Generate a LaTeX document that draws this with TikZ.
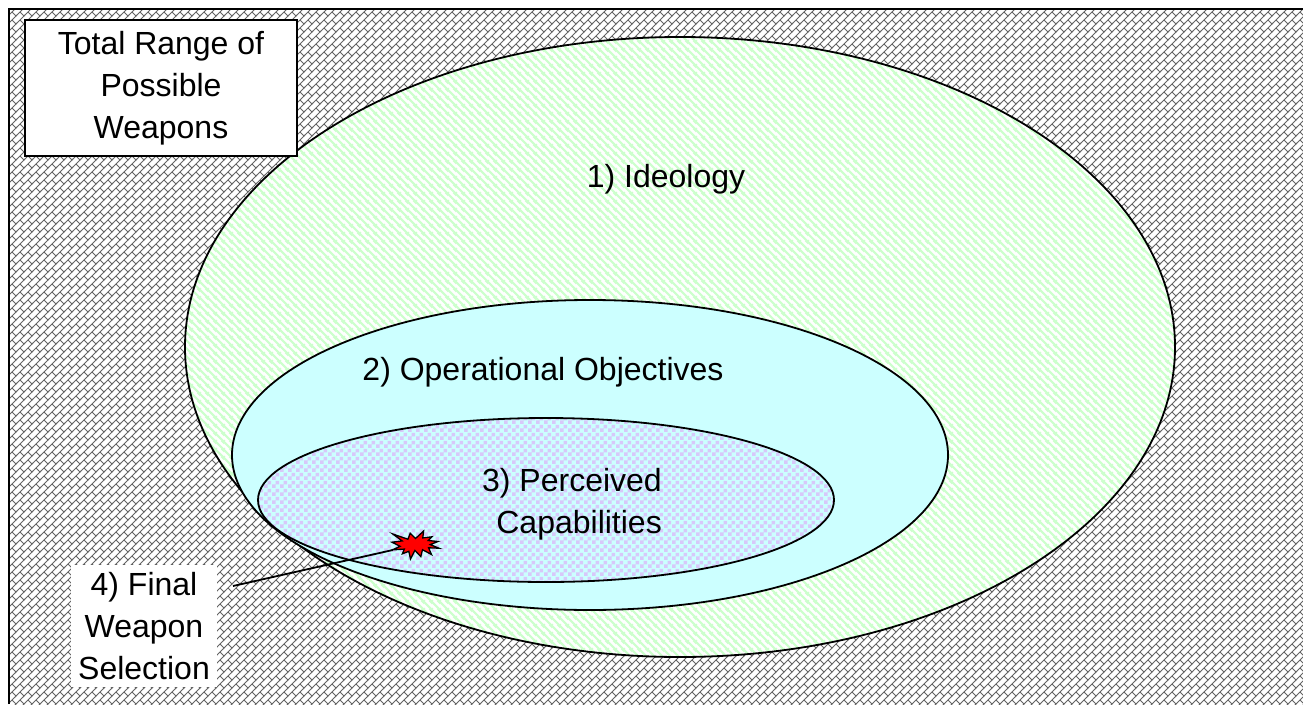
\documentclass[tikz,border=0pt]{standalone}
\usepackage{fontspec}
\setmainfont{Liberation Sans}
\usetikzlibrary{patterns,shapes.geometric}

\definecolor{brickgray}{RGB}{100,100,100}
\definecolor{lgreen}{RGB}{204,255,204}
\definecolor{lcyan}{RGB}{204,255,255}
\definecolor{lav}{RGB}{215,200,250}

% diagonal brick: rising lines with short falling joints
\pgfdeclarepatternformonly{diagbrick}{\pgfqpoint{-1pt}{-1pt}}{\pgfqpoint{9pt}{9pt}}{\pgfqpoint{8pt}{8pt}}{
  \pgfsetlinewidth{0.85pt}
  \pgfpathmoveto{\pgfqpoint{-1pt}{-1pt}}\pgfpathlineto{\pgfqpoint{9pt}{9pt}}
  \pgfpathmoveto{\pgfqpoint{4pt}{4pt}}\pgfpathlineto{\pgfqpoint{8pt}{0pt}}
  \pgfusepath{stroke}}

% wide falling stripes
\pgfdeclarepatternformonly{widedown}{\pgfqpoint{0pt}{0pt}}{\pgfqpoint{8pt}{8pt}}{\pgfqpoint{8pt}{8pt}}{
  \pgfsetlinewidth{2.4pt}
  \pgfpathmoveto{\pgfqpoint{-1pt}{9pt}}\pgfpathlineto{\pgfqpoint{9pt}{-1pt}}
  \pgfpathmoveto{\pgfqpoint{-2pt}{2pt}}\pgfpathlineto{\pgfqpoint{2pt}{-2pt}}
  \pgfpathmoveto{\pgfqpoint{6pt}{10pt}}\pgfpathlineto{\pgfqpoint{10pt}{6pt}}
  \pgfusepath{stroke}}

% large checkerboard
\pgfdeclarepatternformonly{bigcheck}{\pgfqpoint{0pt}{0pt}}{\pgfqpoint{8pt}{8pt}}{\pgfqpoint{8pt}{8pt}}{
  \pgfpathrectangle{\pgfqpoint{0pt}{0pt}}{\pgfqpoint{4pt}{4pt}}
  \pgfpathrectangle{\pgfqpoint{4pt}{4pt}}{\pgfqpoint{4pt}{4pt}}
  \pgfusepath{fill}}

\begin{document}
\begin{tikzpicture}[x=1pt,y=-1pt,
  txt/.style={font=\fontsize{32}{42}\selectfont, inner sep=0pt},
  rim/.style={line width=1.8pt}]
\useasboundingbox (0,0) rectangle (1303,704);
\fill[white] (0,0) rectangle (1303,704);

% field of all possible weapons
\fill[pattern=diagbrick, pattern color=brickgray] (9,9) rectangle (1303,704);
\draw[line width=1.6pt] (9,704) -- (9,9) -- (1303,9);

% 1) ideology
\draw[rim, preaction={fill=white}, preaction={pattern=widedown, pattern color=lgreen}]
  (680,347) ellipse [x radius=495, y radius=310];
% 2) operational objectives
\draw[rim, fill=lcyan] (590,455) ellipse [x radius=358, y radius=155];
% 3) perceived capabilities
\draw[rim, preaction={fill=lcyan}, preaction={pattern=bigcheck, pattern color=lav}]
  (546,500) ellipse [x radius=288, y radius=82];

\node[txt, anchor=base] (ideo) at (666,187) {1) Ideology};
\node[txt, anchor=base] (oper) at (543,380) {2) Operational Objectives};
\node[txt, anchor=east, align=right] (perc) at (662,504) {3) Perceived\\Capabilities};

\node[txt, draw, fill=white, line width=1.5pt, minimum width=272, minimum height=136, align=center]
  (total) at (161,88) {Total Range of\\Possible\\Weapons};

% final selection burst
\node[ellipse, minimum width=47, minimum height=28, inner sep=0pt] (star) at (415,545) {};
\draw[line width=1.3pt, fill=red, line join=miter]
  (415.5,538.5) -- (423.6,531.0) -- (422.8,537.9) -- (432.0,536.8) -- (428.3,540.5)
  -- (437.9,541.5) -- (430.3,544.6) -- (439.0,548.2) -- (428.6,547.8) -- (431.5,554.5)
  -- (422.5,549.7) -- (420.8,556.6) -- (414.9,550.4) -- (410.5,559.0) -- (408.8,551.3)
  -- (402.4,553.8) -- (404.3,549.1) -- (392.3,549.9) -- (400.1,546.3) -- (392.0,542.2)
  -- (402.1,540.9) -- (392.8,534.0) -- (407.9,539.2) -- (410.2,533.3) -- cycle;

\node[txt, fill=white, minimum width=146, minimum height=122, align=center]
  (final) at (144,626) {4) Final\\Weapon\\Selection};
\coordinate (lead) at (233,586);
\draw[line width=1.8pt] (lead) -- (star);
\end{tikzpicture}
\end{document}
